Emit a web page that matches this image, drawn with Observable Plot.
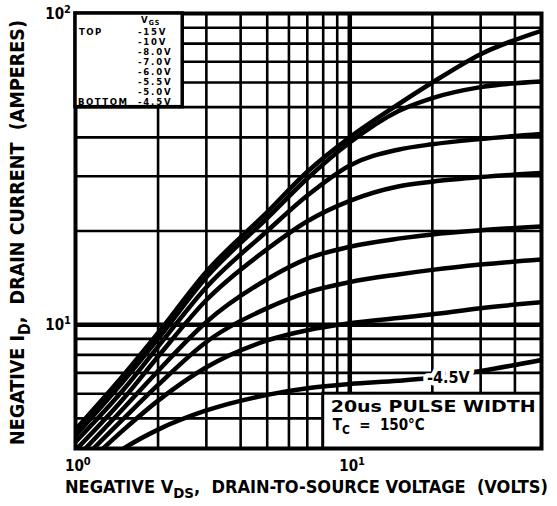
<!DOCTYPE html>
<html><head><meta charset="utf-8">
<script src="https://cdn.jsdelivr.net/npm/d3@7"></script>
<script src="https://cdn.jsdelivr.net/npm/@observablehq/plot@0.6"></script>
<style>
html,body{margin:0;padding:0;background:#fff;}
#chart{width:557px;height:506px;}
</style></head><body><div id="chart"></div>
<script>
// Drain-to-source voltage sample points (V) shared by all curves
const vds = [1, 1.5, 2, 3, 5, 7, 10, 15, 20, 30, 50];
// Gate voltages (legend order, top to bottom)
const vgsLabels = ["-15V", "-10V", "-8.0V", "-7.0V", "-6.0V", "-5.5V", "-5.0V", "-4.5V"];
// Drain current (A) per curve at each vds point
const id15  = [4.6, 6.9, 9.4, 14.8, 23, 31, 40, 51, 60, 74, 88];
const id10  = [4.4, 6.6, 9.0, 14.2, 22, 29.5, 38.5, 48.5, 53.5, 58, 60.5];
const id8   = [4.2, 6.2, 8.5, 13.2, 20, 26, 32.5, 36.5, 38, 39.5, 41];
const id7   = [3.95, 5.8, 7.9, 12, 17.5, 21.5, 25, 27.8, 28.8, 29.8, 30.7];
const id6   = [3.7, 5.4, 7.1, 10.2, 14, 16.3, 17.8, 18.9, 19.5, 20.1, 20.7];
const id55  = [3.5, 5.0, 6.4, 8.8, 11.3, 12.7, 13.7, 14.5, 15, 15.6, 16.2];
const id5   = [3.3, 4.6, 5.7, 7.3, 8.9, 9.6, 10.1, 10.5, 10.8, 11.3, 11.8];
const id45  = [3.0, 4.0, 4.6, 5.3, 5.95, 6.25, 6.45, 6.6, 6.75, 7.1, 7.7];
const allId = [id15, id10, id8, id7, id6, id55, id5, id45];

// Axes / grid
const xDomain = [1, 50];
const yDomain = [4, 100];
const xGrid = [2, 3, 4, 5, 6, 7, 8, 9, 20, 30, 40];
const yGrid = [5, 6, 7, 8, 9, 20, 30, 40, 50, 60, 70, 80, 90];
const xMajor = [10];
const yMajor = [10];
const xTicks = [1, 10];
const yTicks = [10, 100];

// Annotation regions (data units)
const legendBox = {x1: 1, x2: 2.46, y1: 50, y2: 100};
const noteBox = {x1: 8, x2: 50, y1: 4, y2: 6};
const curveLabelAt = 20; // vds where the -4.5V label sits

const data = vgsLabels.flatMap((g, k) => vds.map((v, j) => ({vgs: g, v, i: allId[k][j]})));
const lbl45 = [{v: curveLabelAt, i: id45[vds.indexOf(curveLabelAt)], t: "-4.5V"}];

const FONT = "'DejaVu Sans Condensed','DejaVu Sans',sans-serif";

const chart = Plot.plot({
  width: 557, height: 506,
  marginLeft: 75, marginRight: 16, marginTop: 13, marginBottom: 58,
  x: {type: "log", domain: xDomain, axis: null},
  y: {type: "log", domain: yDomain, axis: null},
  style: {background: "#fff", color: "#000"},
  marks: [
    Plot.ruleX(xGrid, {stroke: "#000", strokeWidth: 2.6}),
    Plot.ruleY(yGrid, {stroke: "#000", strokeWidth: 2.6}),
    Plot.ruleX(xMajor, {stroke: "#000", strokeWidth: 4.5}),
    Plot.ruleY(yMajor, {stroke: "#000", strokeWidth: 4.5}),
    Plot.line(data, {x: "v", y: "i", z: "vgs", stroke: "#000", strokeWidth: 4.5, curve: "monotone-x", clip: true}),
    Plot.text(lbl45, {x: "v", y: "i", text: "t", dx: 16, fill: "#000", stroke: "#fff", strokeWidth: 9,
      fontSize: 16, fontWeight: "bold", fontFamily: "'DejaVu Sans Condensed','DejaVu Sans',sans-serif"}),
    Plot.frame({stroke: "#000", strokeWidth: 4})
  ]
});
document.getElementById("chart").appendChild(chart);

// Overlays: tick labels, legend box, note box, axis labels
const sx = chart.scale("x"), sy = chart.scale("y");
const svg = d3.select(chart);
const g = svg.append("g").attr("font-family", FONT).attr("font-weight", "bold")
  .attr("fill", "#000").attr("text-anchor", "start");

function powLabel(x, y, anchor, exp) {
  const t = g.append("text").attr("x", x).attr("y", y).attr("text-anchor", anchor).attr("font-size", 15);
  t.append("tspan").text("10");
  t.append("tspan").attr("font-size", 11).attr("dy", -6).text(exp);
}
const bottomY = sy.apply(yDomain[0]);
xTicks.forEach(v => powLabel(sx.apply(v) - 10, bottomY + 23, "start", String(Math.round(Math.log10(v)))));
yTicks.forEach(v => powLabel(sx.apply(xDomain[0]) - 4, sy.apply(v) + 6, "end", String(Math.round(Math.log10(v)))));

// Legend box
const lx0 = sx.apply(legendBox.x1), lx1 = sx.apply(legendBox.x2);
const ly0 = sy.apply(legendBox.y2), ly1 = sy.apply(legendBox.y1);
g.append("rect").attr("x", lx0).attr("y", ly0).attr("width", lx1 - lx0).attr("height", ly1 - ly0)
  .attr("fill", "#fff").attr("stroke", "#000").attr("stroke-width", 3.5);
const hdr = g.append("text").attr("x", lx0 + 66).attr("y", ly0 + 10).attr("font-size", 9.5).attr("letter-spacing", 1);
hdr.append("tspan").text("V");
hdr.append("tspan").attr("font-size", 7).attr("dy", 2).text("GS");
vgsLabels.forEach((lab, k) => {
  const yy = ly0 + 22 + k * 10;
  g.append("text").attr("x", lx0 + 63).attr("y", yy).attr("font-size", 9.5).attr("letter-spacing", 1.8).text(lab);
});
g.append("text").attr("x", lx0 + 4).attr("y", ly0 + 22).attr("font-size", 9.5).attr("letter-spacing", 1.5).text("TOP");
g.append("text").attr("x", lx0 + 3).attr("y", ly0 + 92).attr("font-size", 9.5).attr("letter-spacing", 1.5).text("BOTTOM");

// Note box
const nx0 = sx.apply(noteBox.x1), nx1 = sx.apply(noteBox.x2);
const ny0 = sy.apply(noteBox.y2), ny1 = sy.apply(noteBox.y1);
g.append("rect").attr("x", nx0).attr("y", ny0).attr("width", nx1 - nx0).attr("height", ny1 - ny0)
  .attr("fill", "#fff").attr("stroke", "#000").attr("stroke-width", 3);
g.append("text").attr("x", nx0 + 8).attr("y", ny0 + 19).attr("font-size", 15)
  .attr("textLength", 205).attr("lengthAdjust", "spacingAndGlyphs").text("20us PULSE WIDTH");
const tc = g.append("text").attr("x", nx0 + 10).attr("y", ny0 + 37).attr("font-size", 15);
tc.append("tspan").text("T");
tc.append("tspan").attr("font-size", 12).attr("dy", 4).text("C");
tc.append("tspan").attr("dy", -4).text("  =  150\u00b0C");

// X axis label
const xl = g.append("text").attr("x", 65).attr("y", 493).attr("font-size", 17)
  .attr("textLength", 483).attr("lengthAdjust", "spacingAndGlyphs");
xl.append("tspan").text("NEGATIVE V");
xl.append("tspan").attr("font-size", 14).attr("dy", 5).text("DS");
xl.append("tspan").attr("dy", -5).text(",  DRAIN-TO-SOURCE VOLTAGE  (VOLTS)");

// Y axis label
const yl = g.append("text").attr("transform", "translate(24,445) rotate(-90)").attr("font-size", 20)
  .attr("textLength", 425).attr("lengthAdjust", "spacingAndGlyphs");
yl.append("tspan").text("NEGATIVE I");
yl.append("tspan").attr("font-size", 16).attr("dy", 6).text("D");
yl.append("tspan").attr("dy", -6).text(",  DRAIN CURRENT  (AMPERES)");
</script>
</body></html>
